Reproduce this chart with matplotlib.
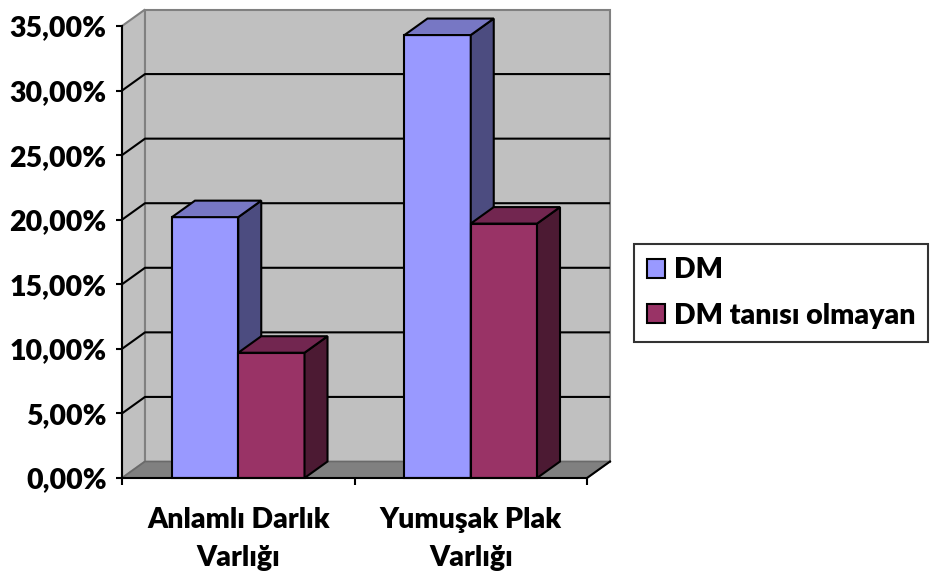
import matplotlib
matplotlib.use("Agg")
import matplotlib.pyplot as plt
from matplotlib.patches import Polygon, Rectangle

plt.rcParams['font.family'] = ['Lato', 'DejaVu Sans']
TEXT_WEIGHT = "heavy"
plt.rcParams['font.weight'] = TEXT_WEIGHT

categories = ["Anlamlı Darlık\nVarlığı", "Yumuşak Plak\nVarlığı"]
series_names = ["DM", "DM tanısı olmayan"]
dm_values = [20.2, 34.3]
non_dm_values = [9.7, 19.7]
y_ticks = [0, 5, 10, 15, 20, 25, 30, 35]
y_tick_labels = ["0,00%", "5,00%", "10,00%", "15,00%", "20,00%", "25,00%", "30,00%", "35,00%"]

# face colours: front, top, side
palettes = [
    ("#9999FF", "#7777C4", "#4C4C80"),
    ("#993366", "#722650", "#4C1A33"),
]

W, H = 930, 575
fig = plt.figure(figsize=(W / 100, H / 100), dpi=100)
fig.patch.set_facecolor("white")

# front plane of the 3-D box in pixels
x0p, x1p, y0p, y1p = 122, 587, 478, 26
ax = fig.add_axes([x0p / W, 1 - y0p / H, (x1p - x0p) / W, (y0p - y1p) / H])
ax.set_xlim(0, len(categories))
ax.set_ylim(0, 35)
ax.patch.set_visible(False)

# depth offset in data units
px_x = (x1p - x0p) / len(categories)
px_y = (y0p - y1p) / 35
ddx = 23 / px_x
ddy = 16.5 / px_y
xmax = len(categories)
ymax = 35

wall_edge = "#808080"
# left wall
ax.add_patch(Polygon([(0, 0), (0, ymax), (ddx, ymax + ddy), (ddx, ddy)], closed=True,
                     facecolor="#C0C0C0", edgecolor=wall_edge, lw=1.5, clip_on=False, zorder=1))
# back wall
ax.add_patch(Polygon([(ddx, ddy), (ddx, ymax + ddy), (xmax + ddx, ymax + ddy), (xmax + ddx, ddy)],
                     closed=True, facecolor="#C0C0C0", edgecolor=wall_edge, lw=1.5, clip_on=False, zorder=1))
# floor
ax.add_patch(Polygon([(0, 0), (xmax, 0), (xmax + ddx, ddy), (ddx, ddy)], closed=True,
                     facecolor="#808080", edgecolor="#6a6a6a", lw=1.2, clip_on=False, zorder=1.2))
ax.plot([xmax, xmax + ddx], [0, ddy], color="black", lw=1.5, clip_on=False, zorder=1.3)

# gridlines on back and side walls
for v in y_ticks[1:-1]:
    ax.plot([0, ddx, xmax + ddx], [v, v + ddy, v + ddy], color="black", lw=1.5,
            clip_on=False, zorder=1.5, solid_capstyle="butt")

# bars
bar_w = 0.285
for gi in range(len(categories)):
    center = gi + 0.5
    for si, vals in enumerate([dm_values, non_dm_values]):
        v = vals[gi]
        front, top, side = palettes[si]
        bx0 = center - bar_w + si * bar_w
        bx1 = bx0 + bar_w
        z = 3 + gi * 2 + si
        ax.add_patch(Polygon([(bx0, 0), (bx1, 0), (bx1, v), (bx0, v)], closed=True,
                             facecolor=front, edgecolor="black", lw=1.5, clip_on=False, zorder=z))
        ax.add_patch(Polygon([(bx1, 0), (bx1 + ddx, ddy), (bx1 + ddx, v + ddy), (bx1, v)], closed=True,
                             facecolor=side, edgecolor="black", lw=1.5, clip_on=False, zorder=z))
        ax.add_patch(Polygon([(bx0, v), (bx1, v), (bx1 + ddx, v + ddy), (bx0 + ddx, v + ddy)], closed=True,
                             facecolor=top, edgecolor="black", lw=1.5, clip_on=False, zorder=z))

# axes lines and ticks
for s in ["top", "right"]:
    ax.spines[s].set_visible(False)
for s in ["left", "bottom"]:
    ax.spines[s].set_color("black")
    ax.spines[s].set_linewidth(1.5)
    ax.spines[s].set_zorder(10)

ax.set_yticks(y_ticks)
ax.set_yticklabels(y_tick_labels)
ax.tick_params(axis="y", length=4, width=1.5, pad=7, labelsize=20.5)
ax.set_xticks([i + 0.5 for i in range(len(categories))])
ax.set_xticklabels(categories, linespacing=1.55)
ax.tick_params(axis="x", which="major", length=0, pad=21, labelsize=20.5)
ax.set_xticks(range(len(categories) + 1), minor=True)
ax.tick_params(axis="x", which="minor", length=5, width=1.5)
for lbl in ax.get_xticklabels() + ax.get_yticklabels():
    lbl.set_fontweight(TEXT_WEIGHT)

handles = [Rectangle((0, 0), 1, 1, facecolor=palettes[i][0], edgecolor="black", lw=1.5)
           for i in range(2)]
leg = fig.legend(handles, series_names, loc="center left",
                 bbox_to_anchor=(634 / W, 1 - 293 / H), fontsize=20.5,
                 frameon=True, fancybox=False, edgecolor="black",
                 handlelength=0.65, handleheight=0.65, handletextpad=0.3,
                 labelspacing=0.7, borderpad=0.45, borderaxespad=0)
leg.get_frame().set_linewidth(1.5)
for t in leg.get_texts():
    t.set_fontweight(TEXT_WEIGHT)

fig.savefig("out.png", dpi=100)
